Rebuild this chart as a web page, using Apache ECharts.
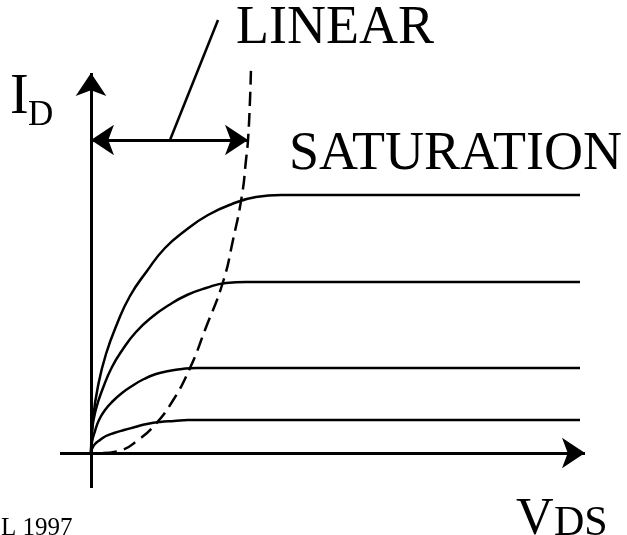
<!DOCTYPE html>
<html>
<head>
<meta charset="utf-8">
<script src="https://cdn.jsdelivr.net/npm/echarts@6/dist/echarts.min.js"></script>
<style>
html, body { margin: 0; padding: 0; background: #fff; }
#chart { width: 627px; height: 535px; }
</style>
</head>
<body>
<div id="chart"></div>
<script>
var curveTop = [[0,0],[2,34],[7,67],[15,99],[26,129],[39,157],[56,182],[74,205],[95,223],[117,238],[141,249],[165,256],[190,258],[489,258]];
var curveSecond = [[0,0],[1,22],[5,44],[12,65],[21,86],[32,104],[45,121],[61,136],[78,148],[96,158],[115,165],[135,170],[155,171],[489,171]];
var curveThird = [[0,0],[1,11],[4,22],[8,33],[14,43],[22,52],[31,60],[41,67],[53,74],[65,79],[78,82],[91,84],[105,85],[489,85]];
var curveBottom = [[0,0],[1,4],[4,9],[9,13],[15,17],[23,20],[33,23],[44,26],[56,29],[69,31],[83,32],[97,33],[112,33],[489,33]];
var pinchOff = [[12,0],[31,3],[47,13],[62,26],[81,51],[99,85],[114,123],[132,171],[142,213],[151,258],[155,293],[157,313],[159,353],[160,385]];

var axisX = [[-31,0],[494,0]];
var axisY = [[0,-35],[0,380]];
var linearSpan = [[0,313],[157,313]];
var leader = [[79,313],[127,433]];

var chart = echarts.init(document.getElementById('chart'));

function curve(pts) {
    return {
        type: 'line',
        data: pts,
        smooth: 0.5,
        showSymbol: false,
        lineStyle: { color: '#000', width: 2.5 },
        silent: true,
        animation: false
    };
}

function segment(pts, symbols, width) {
    return {
        type: 'lines',
        coordinateSystem: 'cartesian2d',
        polyline: false,
        symbol: symbols,
        symbolSize: 23,
        lineStyle: { color: '#000', width: width, opacity: 1 },
        itemStyle: { color: '#000' },
        data: [{ coords: pts }],
        silent: true,
        animation: false
    };
}

var serif = '"Liberation Serif", "DejaVu Serif", serif';

var option = {
    backgroundColor: '#fff',
    animation: false,
    grid: { left: 0, right: 0, top: 0, bottom: 0 },
    xAxis: { type: 'value', min: -91, max: 536, show: false },
    yAxis: { type: 'value', min: -82, max: 453, show: false },
    series: [
        curve(curveTop),
        curve(curveSecond),
        curve(curveThird),
        curve(curveBottom),
        {
            type: 'line',
            data: pinchOff,
            smooth: 0.5,
            showSymbol: false,
            lineStyle: { color: '#000', width: 2.5, type: [14, 7] },
            silent: true,
            animation: false
        },
        segment(axisX, ['none', 'arrow'], 3),
        segment(axisY, ['none', 'arrow'], 3),
        segment(linearSpan, ['arrow', 'arrow'], 3),
        segment(leader, ['none', 'none'], 2.5)
    ],
    graphic: [
        { type: 'text', left: 10, top: 70, style: { text: 'I', font: '56px ' + serif, fill: '#000' } },
        { type: 'text', left: 28, top: 98, style: { text: 'D', font: '35px ' + serif, fill: '#000' } },
        { type: 'text', left: 236, top: 2, style: { text: 'LINEAR', font: '54px ' + serif, fill: '#000' } },
        { type: 'text', left: 289, top: 128, style: { text: 'SATURATION', font: '54px ' + serif, fill: '#000' } },
        { type: 'text', left: 516, top: 494, style: { text: 'V', font: '52px ' + serif, fill: '#000' } },
        { type: 'text', left: 554, top: 503, style: { text: 'DS', font: '42px ' + serif, fill: '#000' } },
        { type: 'text', left: 1, top: 516, style: { text: 'L 1997', font: '25px ' + serif, fill: '#000' } }
    ]
};

chart.setOption(option);
</script>
</body>
</html>
